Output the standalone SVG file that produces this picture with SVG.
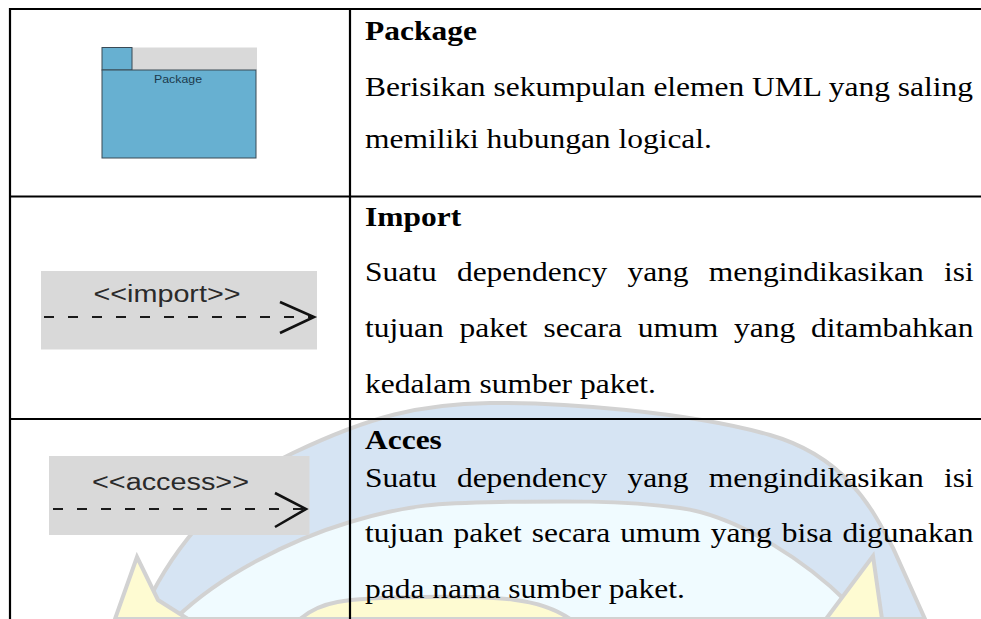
<svg xmlns="http://www.w3.org/2000/svg" width="981" height="619" viewBox="0 0 981 619">
<defs>
<style>
.grid{stroke:#000;stroke-width:2.2;fill:none}
.ttl{font-family:"Liberation Serif","Times New Roman",serif;font-size:27px;font-weight:bold;fill:#000}
.body{font-family:"Liberation Serif","Times New Roman",serif;font-size:27px;fill:#000}
.lbl{font-family:"Liberation Sans",Arial,sans-serif;fill:#2a2a2a}
.dash{stroke:#1a1a1a;stroke-width:2.2;stroke-dasharray:10 14;fill:none}
.head{stroke:#111;stroke-width:2.6;fill:none;stroke-linejoin:miter}
.wm{stroke:#d2d2d2;stroke-width:4}
</style>
</defs>
<rect width="981" height="619" fill="#fff"/>
<g id="watermark">
<path class="wm" fill="#d6e4f3" d="M140 619 C165 560 215 490 293 453 S420 404 490 403 S690 412 770 435 S875 515 893 548 L925 619 Z"/>
<path class="wm" fill="#f0fbff" d="M175 619 C220 575 290 540 350 522 S440 503 500 502 S620 500 680 508 S810 565 847 602 L865 619 Z"/>
<path class="wm" fill="#fefbd2" d="M115 619 L137 557 L158 600 L188 619 Z"/>
<path class="wm" fill="#fefbd2" d="M826 619 L873 556 L882 619 Z"/>
<path class="wm" fill="#fefbd2" d="M300 619 C320 602 340 598 420 597 S540 598 570 619 Z"/>
</g>
<g id="table" class="grid">
<line x1="10" y1="9" x2="981" y2="9"/>
<line x1="10" y1="8" x2="10" y2="619"/>
<line x1="350" y1="8" x2="350" y2="619"/>
<line x1="10" y1="196.5" x2="981" y2="196.5"/>
<line x1="10" y1="419" x2="981" y2="419"/>
</g>
<g id="node-package">
<rect x="132" y="47.5" width="125" height="22.5" fill="#d9d9d9"/>
<rect x="102" y="47.5" width="30" height="22.5" fill="#67b0d1" stroke="#3a4a55" stroke-width="1"/>
<rect x="102" y="70" width="154" height="88" fill="#67b0d1" stroke="#3a4a55" stroke-width="1"/>
<text class="lbl" x="154" y="83" font-size="11.5" textLength="48" lengthAdjust="spacingAndGlyphs" style="fill:#1c3a4d">Package</text>
</g>
<g id="node-import">
<rect x="41" y="271" width="276" height="78.5" fill="#d9d9d9"/>
<text class="lbl" x="93.5" y="302" font-size="23" textLength="147" lengthAdjust="spacingAndGlyphs">&lt;&lt;import&gt;&gt;</text>
</g>
<g id="node-access">
<rect x="49" y="456" width="260.5" height="79" fill="#d9d9d9"/>
<text class="lbl" x="92" y="490" font-size="23" textLength="157" lengthAdjust="spacingAndGlyphs">&lt;&lt;access&gt;&gt;</text>
</g>
<g id="connectors">
<line class="dash" x1="44" y1="317" x2="312" y2="317"/>
<polyline class="head" points="280,302 314,317 280,333"/>
<line class="dash" x1="53" y1="509" x2="303" y2="509"/>
<polyline class="head" points="275,493 306,509 275,527"/>
</g>
<g id="desc-package" transform="translate(365 0) scale(1.166 1)">
<text class="ttl" x="0" y="40.5">Package</text>
<text class="body" x="0" y="96">Berisikan sekumpulan elemen UML yang saling</text>
<text class="body" x="0" y="148">memiliki hubungan logical.</text>
</g>
<g id="desc-import" transform="translate(365 0) scale(1.166 1)">
<text class="ttl" x="0" y="226.5">Import</text>
<text class="body" x="0" y="281" word-spacing="10.6">Suatu dependency yang mengindikasikan isi</text>
<text class="body" x="0" y="337" word-spacing="6.8">tujuan paket secara umum yang ditambahkan</text>
<text class="body" x="0" y="393">kedalam sumber paket.</text>
</g>
<g id="desc-access" transform="translate(365 0) scale(1.166 1)">
<text class="ttl" x="0" y="449">Acces</text>
<text class="body" x="0" y="487" word-spacing="10.6">Suatu dependency yang mengindikasikan isi</text>
<text class="body" x="0" y="542" word-spacing="1.8">tujuan paket secara umum yang bisa digunakan</text>
<text class="body" x="0" y="598">pada nama sumber paket.</text>
</g>
</svg>
